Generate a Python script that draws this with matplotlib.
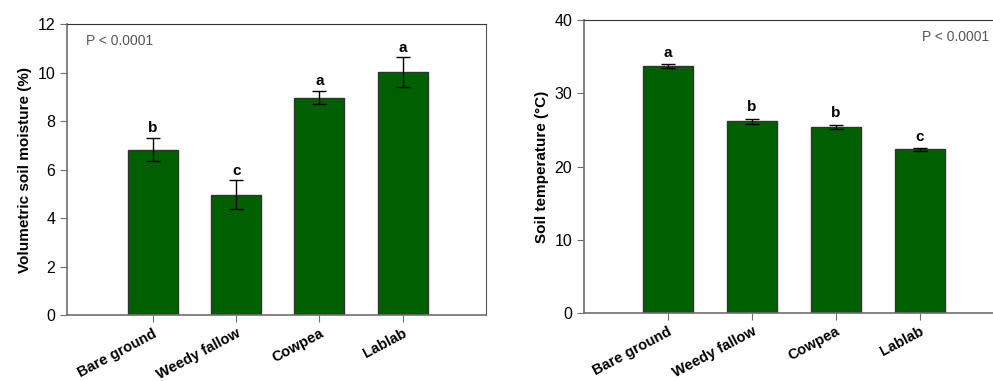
import matplotlib
matplotlib.use("Agg")
import matplotlib.pyplot as plt
import numpy as np

plt.rcParams['font.family'] = ['Liberation Sans', 'DejaVu Sans']

# Data
treatments = ["Bare ground", "Weedy fallow", "Cowpea", "Lablab"]
moisture = [6.82, 4.97, 8.97, 10.02]
moisture_se = [0.48, 0.58, 0.27, 0.60]
moisture_letters = ["b", "c", "a", "a"]
temperature = [33.7, 26.2, 25.4, 22.35]
temperature_se = [0.3, 0.35, 0.3, 0.2]
temperature_letters = ["a", "b", "b", "c"]

bar_color = "#005f00"
spine_color = "#6e6e6e"

fig = plt.figure(figsize=(9.93, 3.81), dpi=100)
ax1 = fig.add_axes([0.0675, 0.173, 0.422, 0.764])
ax2 = fig.add_axes([0.588, 0.178, 0.412, 0.7695])

x = np.arange(len(treatments))


def draw(ax, vals, err, letters, ylim, step, ylabel, offset):
    ax.bar(x, vals, width=0.6, color=bar_color, edgecolor="#333333", linewidth=1.0, zorder=2)
    ax.errorbar(x, vals, yerr=err, fmt="none", ecolor="black", elinewidth=1.0,
                capsize=5, capthick=1.0, zorder=3)
    for xi, v, e, l in zip(x, vals, err, letters):
        ax.text(xi, v + e + offset, l, ha="center", va="bottom", fontsize=11, fontweight="bold")
    ax.set_ylim(*ylim)
    ax.set_yticks(np.arange(ylim[0], ylim[1] + 0.01, step))
    ax.set_xticks(x)
    ax.set_xticklabels(treatments, rotation=28, ha="right", rotation_mode="anchor",
                       fontsize=10.5, fontweight="bold")
    ax.set_ylabel(ylabel, fontsize=11, fontweight="bold")
    ax.tick_params(axis="y", labelsize=11.5, direction="out", length=5, color=spine_color)
    ax.tick_params(axis="x", direction="out", length=5, color=spine_color, pad=3)
    for s in ["left", "bottom"]:
        ax.spines[s].set_color(spine_color)
        ax.spines[s].set_linewidth(1.2)
    ax.spines["top"].set_color("#333333")
    ax.spines["right"].set_color("#555555")


draw(ax1, moisture, moisture_se, moisture_letters, (0, 12), 2,
     "Volumetric soil moisture (%)", 0.12)
ax1.set_xlim(-1.03, 4.0)
ax1.text(0.045, 0.965, "P < 0.0001", transform=ax1.transAxes, ha="left", va="top",
         fontsize=10, color="#555555")

draw(ax2, temperature, temperature_se, temperature_letters, (0, 40), 10,
     "Soil temperature (°C)", 0.6)
ax2.set_xlim(-1.0, 3.87)
ax2.spines["right"].set_visible(False)
ax2.text(0.99, 0.965, "P < 0.0001", transform=ax2.transAxes, ha="right", va="top",
         fontsize=10, color="#555555")

fig.savefig("out.png", dpi=100)
